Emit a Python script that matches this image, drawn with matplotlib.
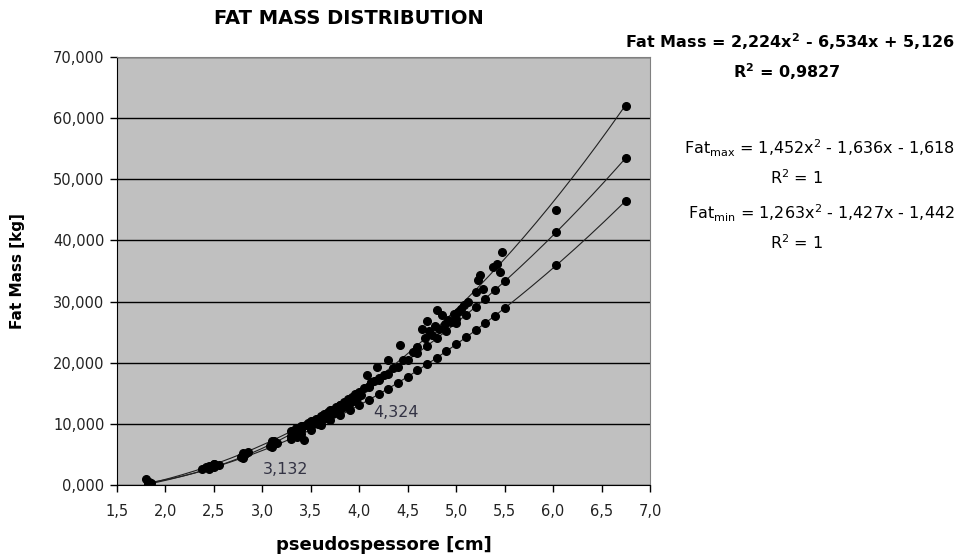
import numpy as np
import matplotlib.pyplot as plt
from matplotlib.ticker import FuncFormatter, MultipleLocator

plt.rcParams['font.family'] = ['DejaVu Sans']
plt.rcParams['mathtext.fontset'] = 'dejavusans'

# measured fat mass per subject
fm_x = [1.80, 1.83, 1.85, 2.38, 2.42, 2.45, 2.50, 2.55, 2.78, 2.82, 2.85,
        3.08, 3.12, 3.15, 3.30, 3.32, 3.35, 3.36, 3.38, 3.40, 3.42, 3.43,
        3.45, 3.47, 3.50, 3.52, 3.55, 3.57, 3.60, 3.62, 3.64, 3.66, 3.68,
        3.70, 3.72, 3.74, 3.76, 3.78, 3.80, 3.82, 3.84, 3.86, 3.88, 3.90,
        3.92, 3.94, 3.96, 3.98, 4.00, 4.02, 4.05, 4.08, 4.10, 4.12, 4.15,
        4.18, 4.20, 4.25, 4.30, 4.35, 4.42, 4.45, 4.55, 4.60, 4.65, 4.68,
        4.70, 4.72, 4.75, 4.78, 4.80, 4.82, 4.85, 4.88, 4.92, 4.95, 4.98,
        5.00, 5.02, 5.05, 5.08, 5.12, 5.20, 5.22, 5.25, 5.28, 5.38, 5.42,
        5.45, 5.47, 6.03, 6.75]
fm_y = [0.9, 0.5, 0.3, 2.6, 3.0, 2.8, 3.4, 3.2, 4.6, 5.0, 5.4,
        6.3, 7.2, 6.8, 8.0, 8.8, 9.3, 7.9, 8.5, 9.0, 9.6, 7.4,
        9.8, 10.2, 9.6, 10.4, 10.8, 10.0, 11.2, 10.6, 11.6, 11.0, 12.0,
        11.5, 12.3, 11.8, 12.8, 12.2, 13.1, 12.6, 13.5, 13.0, 14.0, 13.4,
        14.4, 13.8, 14.9, 14.3, 15.2, 14.8, 15.8, 18.0, 16.2, 16.8, 17.0,
        19.3, 17.5, 18.0, 20.4, 19.2, 22.9, 20.5, 21.8, 22.5, 25.5, 24.0,
        26.8, 25.2, 24.6, 26.0, 28.6, 25.5, 27.8, 26.3, 27.0, 26.6, 28.0,
        27.2, 28.3, 28.8, 29.5, 30.0, 31.5, 33.5, 34.3, 32.0, 35.7, 36.2,
        34.8, 38.1, 45.0, 62.0]

# max / min estimates
lim_x = [1.82, 2.45, 2.50, 2.80, 3.10, 3.30, 3.40, 3.50, 3.60, 3.70, 3.80,
         3.90, 4.00, 4.10, 4.20, 4.30, 4.40, 4.50, 4.60, 4.70, 4.80, 4.90,
         5.00, 5.10, 5.20, 5.30, 5.40, 5.50, 6.03, 6.75]
fat_max = [0.21, 3.09, 3.37, 5.18, 7.26, 8.79, 9.61, 10.44, 11.31, 12.21, 13.13,
           14.08, 15.07, 16.08, 17.12, 18.20, 19.29, 20.42, 21.57, 22.76, 23.98, 25.22,
           26.5, 27.81, 29.13, 30.50, 31.89, 33.3, 41.3, 53.5]
fat_min = [0.14, 2.64, 2.88, 4.46, 6.28, 7.60, 8.31, 9.04, 9.79, 10.57, 11.38,
           12.20, 13.06, 13.94, 14.85, 15.77, 16.73, 17.72, 18.73, 19.75, 20.81, 21.89,
           23.0, 24.13, 25.29, 26.48, 27.68, 28.92, 35.9, 46.5]

fig = plt.figure(figsize=(9.6, 5.59), dpi=100)
ax = fig.add_axes([117/960, 74/559, 533/960, 428/559])
ax.set_facecolor('#c0c0c0')

# trendlines (2nd order, like the spreadsheet)
xx = np.linspace(1.8, 6.75, 200)
for xs, ys in [(fm_x, fm_y), (lim_x, fat_max), (lim_x, fat_min)]:
    c = np.polyfit(xs, ys, 2)
    ax.plot(xx, np.polyval(c, xx), color='#222222', lw=0.8, zorder=2)

ax.plot(lim_x, fat_max, 'o', color='black', ms=5.5, zorder=3)
ax.plot(lim_x, fat_min, 'o', color='black', ms=5.5, zorder=3)
ax.plot(fm_x, fm_y, 'o', color='black', ms=5.5, zorder=4)

ax.set_xlim(1.5, 7.0)
ax.set_ylim(0, 70)
ax.xaxis.set_major_locator(MultipleLocator(0.5))
ax.yaxis.set_major_locator(MultipleLocator(10))
ax.xaxis.set_major_formatter(FuncFormatter(lambda v, p: f"{v:.1f}".replace('.', ',')))
ax.yaxis.set_major_formatter(FuncFormatter(lambda v, p: f"{v:.3f}".replace('.', ',')))
ax.grid(axis='y', color='black', lw=1.0)
ax.set_axisbelow(True)
ax.tick_params(direction='out', length=5, width=1, labelsize=10.5, colors='black', labelcolor='#222222')
ax.tick_params(axis='x', pad=9)
ax.tick_params(axis='y', pad=4)
for s in ['top', 'right']:
    ax.spines[s].set_color('#808080')
for s in ['left', 'bottom']:
    ax.spines[s].set_color('black')

ax.set_xlabel('pseudospessore [cm]', fontsize=13, fontweight='bold', labelpad=12)
ax.set_ylabel('Fat Mass [kg]', fontsize=11, fontweight='bold', labelpad=20)
fig.text(349/960, 1 - 18/559, 'FAT MASS DISTRIBUTION', ha='center', va='center',
         fontsize=14, fontweight='bold')

ax.text(3.0, 2.6, '3,132', fontsize=11.5, color='#333344', va='center')
ax.text(4.14, 11.9, '4,324', fontsize=11.5, color='#333344', va='center')

fig.text(955/960, 1 - 42/559, r'Fat Mass = 2,224x$^\mathbf{2}$ - 6,534x + 5,126', ha='right',
         va='center', fontsize=11.5, fontweight='bold')
fig.text(787/960, 1 - 72/559, r'R$^\mathbf{2}$ = 0,9827', ha='center', va='center',
         fontsize=11.5, fontweight='bold')
fig.text(955/960, 1 - 148/559, r'Fat$_\mathrm{max}$ = 1,452x$^2$ - 1,636x - 1,618', ha='right',
         va='center', fontsize=11.5)
fig.text(797/960, 1 - 178/559, r'R$^2$ = 1', ha='center', va='center', fontsize=11.5)
fig.text(955/960, 1 - 213/559, r'Fat$_\mathrm{min}$ = 1,263x$^2$ - 1,427x - 1,442', ha='right',
         va='center', fontsize=11.5)
fig.text(797/960, 1 - 243/559, r'R$^2$ = 1', ha='center', va='center', fontsize=11.5)

fig.savefig('out.png', dpi=100, facecolor='white')
